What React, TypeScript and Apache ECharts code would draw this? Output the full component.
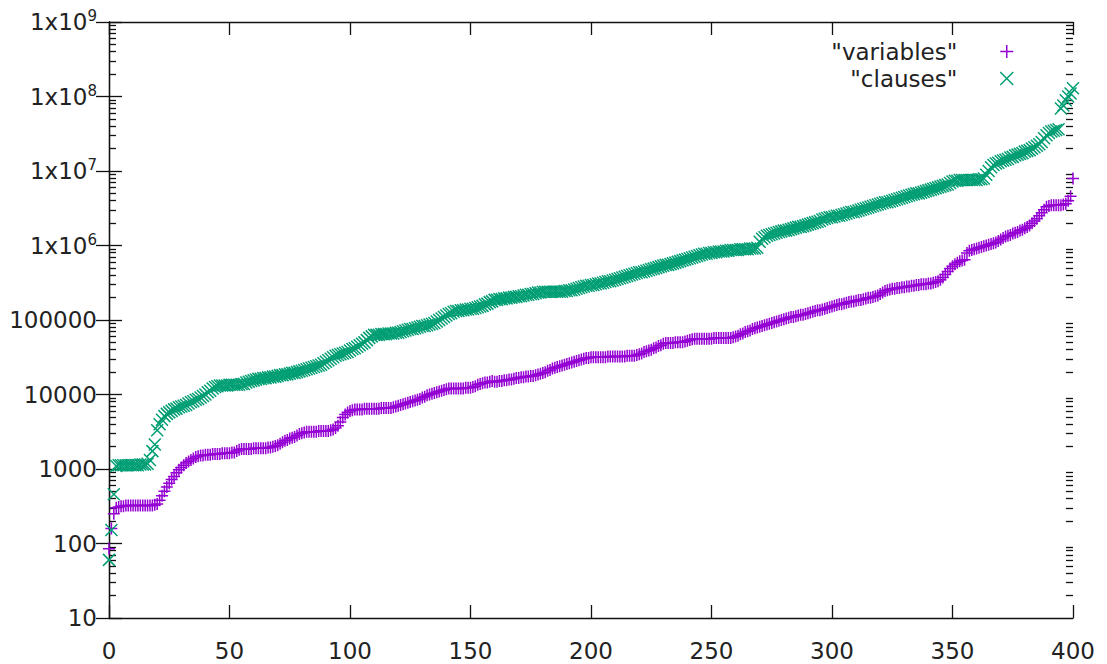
import React, { useEffect, useRef } from "react";
import * as echarts from "echarts";

// log10 of the "variables" values, index 0..400
const variablesLog10: number[] = [
  1.93, 2.2, 2.4, 2.48, 2.49, 2.5, 2.5, 2.51, 2.51, 2.51,
  2.51, 2.51, 2.51, 2.51, 2.51, 2.51, 2.51, 2.51, 2.51, 2.52,
  2.53, 2.58, 2.64, 2.7, 2.76, 2.81, 2.86, 2.9, 2.95, 2.99,
  3.02, 3.05, 3.08, 3.1, 3.12, 3.14, 3.16, 3.17, 3.18, 3.18,
  3.19, 3.19, 3.19, 3.2, 3.2, 3.2, 3.2, 3.21, 3.21, 3.21,
  3.21, 3.22, 3.22, 3.24, 3.26, 3.27, 3.27, 3.27, 3.27, 3.27,
  3.28, 3.28, 3.28, 3.28, 3.28, 3.28, 3.29, 3.29, 3.3, 3.31,
  3.32, 3.34, 3.36, 3.38, 3.39, 3.41, 3.42, 3.43, 3.45, 3.47,
  3.48, 3.49, 3.5, 3.5, 3.5, 3.5, 3.5, 3.51, 3.51, 3.51,
  3.51, 3.51, 3.52, 3.53, 3.55, 3.58, 3.63, 3.69, 3.73, 3.76,
  3.78, 3.79, 3.8, 3.8, 3.8, 3.8, 3.81, 3.81, 3.81, 3.81,
  3.81, 3.81, 3.81, 3.82, 3.82, 3.82, 3.82, 3.82, 3.83, 3.84,
  3.85, 3.86, 3.87, 3.88, 3.89, 3.9, 3.91, 3.92, 3.93, 3.94,
  3.96, 3.97, 3.99, 4.0, 4.01, 4.02, 4.03, 4.04, 4.05, 4.06,
  4.07, 4.08, 4.08, 4.08, 4.08, 4.08, 4.08, 4.08, 4.09, 4.09,
  4.09, 4.1, 4.11, 4.13, 4.14, 4.15, 4.16, 4.16, 4.17, 4.18,
  4.17, 4.17, 4.18, 4.18, 4.19, 4.19, 4.2, 4.2, 4.21, 4.22,
  4.22, 4.23, 4.23, 4.24, 4.24, 4.25, 4.25, 4.26, 4.27, 4.28,
  4.29, 4.3, 4.32, 4.33, 4.35, 4.36, 4.37, 4.38, 4.39, 4.4,
  4.41, 4.42, 4.43, 4.44, 4.45, 4.46, 4.47, 4.48, 4.49, 4.49,
  4.5, 4.5, 4.5, 4.5, 4.5, 4.5, 4.5, 4.51, 4.51, 4.51,
  4.51, 4.51, 4.51, 4.51, 4.51, 4.52, 4.52, 4.52, 4.52, 4.53,
  4.54, 4.55, 4.57, 4.58, 4.59, 4.6, 4.62, 4.63, 4.65, 4.66,
  4.68, 4.69, 4.69, 4.69, 4.69, 4.7, 4.7, 4.7, 4.7, 4.71,
  4.72, 4.73, 4.74, 4.75, 4.75, 4.75, 4.75, 4.75, 4.75, 4.75,
  4.75, 4.76, 4.76, 4.76, 4.76, 4.76, 4.76, 4.76, 4.76, 4.77,
  4.78, 4.79, 4.81, 4.82, 4.84, 4.85, 4.86, 4.88, 4.89, 4.9,
  4.91, 4.92, 4.93, 4.94, 4.95, 4.96, 4.97, 4.98, 4.99, 5.0,
  5.01, 5.02, 5.03, 5.04, 5.04, 5.05, 5.06, 5.07, 5.07, 5.08,
  5.09, 5.1, 5.11, 5.12, 5.13, 5.13, 5.14, 5.15, 5.16, 5.17,
  5.18, 5.19, 5.2, 5.21, 5.21, 5.22, 5.23, 5.24, 5.25, 5.25,
  5.26, 5.27, 5.27, 5.28, 5.29, 5.3, 5.3, 5.31, 5.32, 5.33,
  5.35, 5.37, 5.39, 5.4, 5.41, 5.42, 5.42, 5.43, 5.43, 5.44,
  5.44, 5.45, 5.45, 5.46, 5.46, 5.47, 5.47, 5.48, 5.48, 5.48,
  5.49, 5.49, 5.5, 5.51, 5.52, 5.54, 5.57, 5.61, 5.65, 5.69,
  5.72, 5.75, 5.77, 5.79, 5.8, 5.81, 5.9, 5.93, 5.94, 5.95,
  5.96, 5.97, 5.98, 5.99, 6.0, 6.01, 6.02, 6.03, 6.04, 6.06,
  6.08, 6.1, 6.12, 6.13, 6.14, 6.16, 6.17, 6.18, 6.2, 6.21,
  6.23, 6.25, 6.27, 6.3, 6.33, 6.36, 6.4, 6.44, 6.48, 6.52,
  6.53, 6.54, 6.54, 6.54, 6.54, 6.54, 6.55, 6.56, 6.6, 6.66,
  6.9,
];

// log10 of the "clauses" values, index 0..400
const clausesLog10: number[] = [
  1.78, 2.18, 2.66, 3.04, 3.05, 3.05, 3.05, 3.05, 3.05, 3.05,
  3.05, 3.05, 3.05, 3.06, 3.06, 3.06, 3.07, 3.12, 3.24, 3.33,
  3.52, 3.6, 3.66, 3.71, 3.74, 3.76, 3.78, 3.8, 3.81, 3.83,
  3.84, 3.85, 3.86, 3.88, 3.9, 3.91, 3.93, 3.94, 3.96, 3.98,
  4.0, 4.03, 4.05, 4.08, 4.1, 4.11, 4.12, 4.12, 4.12, 4.12,
  4.13, 4.13, 4.13, 4.13, 4.13, 4.14, 4.14, 4.16, 4.17, 4.18,
  4.19, 4.2, 4.21, 4.21, 4.22, 4.22, 4.23, 4.23, 4.24, 4.24,
  4.25, 4.26, 4.26, 4.27, 4.27, 4.28, 4.29, 4.29, 4.3, 4.31,
  4.32, 4.33, 4.34, 4.35, 4.36, 4.37, 4.38, 4.39, 4.4, 4.42,
  4.44, 4.46, 4.48, 4.5, 4.52, 4.53, 4.54, 4.55, 4.56, 4.57,
  4.59, 4.61, 4.62, 4.64, 4.66, 4.68, 4.7, 4.73, 4.76, 4.78,
  4.8, 4.8, 4.8, 4.81, 4.81, 4.81, 4.82, 4.82, 4.82, 4.83,
  4.83, 4.84, 4.85, 4.86, 4.87, 4.88, 4.88, 4.89, 4.9, 4.91,
  4.92, 4.92, 4.93, 4.94, 4.95, 4.96, 4.98, 5.0, 5.02, 5.04,
  5.06, 5.08, 5.09, 5.11, 5.12, 5.12, 5.13, 5.13, 5.14, 5.14,
  5.15, 5.15, 5.16, 5.17, 5.18, 5.19, 5.21, 5.22, 5.24, 5.25,
  5.27, 5.27, 5.28, 5.28, 5.29, 5.29, 5.3, 5.3, 5.31, 5.31,
  5.32, 5.32, 5.33, 5.34, 5.34, 5.35, 5.35, 5.36, 5.37, 5.37,
  5.38, 5.38, 5.38, 5.38, 5.38, 5.38, 5.38, 5.38, 5.38, 5.39,
  5.39, 5.4, 5.4, 5.41, 5.42, 5.43, 5.44, 5.45, 5.46, 5.46,
  5.47, 5.47, 5.48, 5.49, 5.49, 5.5, 5.51, 5.52, 5.52, 5.53,
  5.54, 5.55, 5.56, 5.57, 5.58, 5.59, 5.6, 5.61, 5.62, 5.63,
  5.64, 5.64, 5.65, 5.66, 5.67, 5.68, 5.69, 5.7, 5.71, 5.72,
  5.73, 5.74, 5.74, 5.75, 5.76, 5.77, 5.78, 5.79, 5.8, 5.81,
  5.82, 5.83, 5.84, 5.85, 5.86, 5.87, 5.88, 5.89, 5.89, 5.9,
  5.9, 5.91, 5.91, 5.92, 5.92, 5.92, 5.93, 5.93, 5.94, 5.94,
  5.94, 5.94, 5.95, 5.95, 5.95, 5.95, 5.96, 5.96, 5.96, 5.97,
  6.05, 6.09, 6.11, 6.13, 6.14, 6.15, 6.16, 6.17, 6.18, 6.19,
  6.2, 6.2, 6.21, 6.22, 6.23, 6.24, 6.25, 6.25, 6.26, 6.27,
  6.28, 6.29, 6.3, 6.31, 6.32, 6.33, 6.35, 6.36, 6.37, 6.38,
  6.38, 6.39, 6.4, 6.4, 6.41, 6.42, 6.43, 6.44, 6.45, 6.45,
  6.46, 6.47, 6.48, 6.49, 6.5, 6.51, 6.52, 6.53, 6.54, 6.55,
  6.56, 6.57, 6.58, 6.58, 6.59, 6.6, 6.61, 6.62, 6.63, 6.64,
  6.65, 6.66, 6.67, 6.68, 6.69, 6.7, 6.7, 6.71, 6.72, 6.73,
  6.74, 6.75, 6.76, 6.77, 6.78, 6.79, 6.8, 6.81, 6.82, 6.84,
  6.86, 6.87, 6.87, 6.88, 6.88, 6.88, 6.88, 6.88, 6.88, 6.88,
  6.88, 6.89, 6.89, 6.9, 6.95, 7.0, 7.05, 7.08, 7.1, 7.11,
  7.13, 7.14, 7.15, 7.16, 7.18, 7.19, 7.21, 7.22, 7.23, 7.24,
  7.26, 7.27, 7.28, 7.3, 7.32, 7.34, 7.36, 7.39, 7.44, 7.48,
  7.51, 7.53, 7.54, 7.55, 7.56, 7.84, 7.88, 7.95, 8.0, 8.04,
  8.11,
];

const seriesNames = ['"variables"', '"clauses"'];
const seriesColors = ["#9400d3", "#009e73"];
const yMajorTicks = [10, 100, 1000, 10000, 100000, 1e6, 1e7, 1e8, 1e9];
const yMinorMultipliers = [2, 3, 4, 5, 6, 7, 8, 9];
const xTickInterval = 50;

const PLUS = "path://M6,0L6,12M0,6L12,6";
const CROSS = "path://M0,0L12,12M12,0L0,12";

export default function App() {
  const ref = useRef<HTMLDivElement>(null);

  useEffect(() => {
    if (!ref.current) return;
    const chart = echarts.init(ref.current, undefined, { renderer: "svg" });

    const variables = variablesLog10.map((v, i) => [i, Math.pow(10, v)]);
    const clauses = clausesLog10.map((v, i) => [i, Math.pow(10, v)]);

    const minorTicks: number[] = [];
    for (let k = 0; k < yMajorTicks.length - 1; k++) {
      for (const m of yMinorMultipliers) minorTicks.push(yMajorTicks[k] * m);
    }

    const font = "DejaVu Sans";
    const fs = 23;
    const lineStyle = { color: "#111", width: 1.3 };
    const gridBox = { left: 109, right: 34, top: 22, bottom: 46, containLabel: false };

    const yLabelFormatter = (value: number) => {
      const e = Math.round(Math.log10(value));
      if (e >= 6) return "1x10{s|" + e + "}";
      return String(Math.round(value));
    };

    const baseY = {
      type: "log" as const,
      logBase: 10,
      min: 10,
      max: 1e9,
      splitLine: { show: false },
      minorTick: { show: false },
    };

    const majorY = (position: "left" | "right", labels: boolean) => ({
      ...baseY,
      gridIndex: 0,
      position,
      axisLine: { show: true, lineStyle },
      axisTick: {
        show: true,
        inside: true,
        length: 13,
        lineStyle,
        customValues: yMajorTicks,
      },
      axisLabel: labels
        ? {
            show: true,
            margin: 12,
            fontFamily: font,
            fontSize: fs,
            color: "#222",
            customValues: yMajorTicks,
            formatter: yLabelFormatter,
            rich: {
              s: {
                fontFamily: font,
                fontSize: 15,
                color: "#222",
                padding: [0, 0, 12, 0],
              },
            },
          }
        : { show: false },
    });

    const minorY = (position: "left" | "right") => ({
      ...baseY,
      gridIndex: 1,
      position,
      axisLine: { show: false },
      axisTick: {
        show: true,
        inside: true,
        length: 7,
        lineStyle,
        customValues: minorTicks,
      },
      axisLabel: { show: false },
    });

    const option: any = {
      animation: false,
      backgroundColor: "#ffffff",
      grid: [gridBox, { ...gridBox }],
      legend: {
        orient: "vertical",
        right: 88,
        top: 35,
        align: "right",
        itemWidth: 13,
        itemHeight: 13,
        itemGap: 4,
        selectedMode: false,
        textStyle: {
          fontFamily: font,
          fontSize: fs,
          color: "#222",
          padding: [0, 38, 0, 0],
        },
        data: seriesNames.map((n, i) => ({
          name: n,
          icon: i === 0 ? PLUS : CROSS,
          itemStyle: {
            color: "rgba(0,0,0,0)",
            borderColor: seriesColors[i],
            borderWidth: 1.5,
          },
        })),
      },
      xAxis: [
        {
          type: "value",
          gridIndex: 0,
          position: "bottom",
          min: 0,
          max: 400,
          interval: xTickInterval,
          splitLine: { show: false },
          axisLine: { show: true, lineStyle },
          axisTick: { show: true, inside: true, length: 13, lineStyle },
          axisLabel: {
            show: true,
            margin: 21,
            fontFamily: font,
            fontSize: fs,
            color: "#222",
          },
        },
        {
          type: "value",
          gridIndex: 0,
          position: "top",
          min: 0,
          max: 400,
          interval: xTickInterval,
          splitLine: { show: false },
          axisLine: { show: true, lineStyle },
          axisTick: { show: true, inside: true, length: 13, lineStyle },
          axisLabel: { show: false },
        },
        {
          type: "value",
          gridIndex: 1,
          min: 0,
          max: 400,
          show: false,
        },
      ],
      yAxis: [
        majorY("left", true),
        majorY("right", false),
        minorY("left"),
        minorY("right"),
      ],
      series: [
        {
          name: seriesNames[0],
          type: "scatter",
          xAxisIndex: 0,
          yAxisIndex: 0,
          symbol: PLUS,
          symbolSize: 12,
          itemStyle: {
            color: "rgba(0,0,0,0)",
            borderColor: seriesColors[0],
            borderWidth: 1.5,
            opacity: 1,
          },
          emphasis: { disabled: true },
          data: variables,
        },
        {
          name: seriesNames[1],
          type: "scatter",
          xAxisIndex: 0,
          yAxisIndex: 0,
          symbol: CROSS,
          symbolSize: 12,
          itemStyle: {
            color: "rgba(0,0,0,0)",
            borderColor: seriesColors[1],
            borderWidth: 1.5,
            opacity: 1,
          },
          emphasis: { disabled: true },
          data: clauses,
        },
      ],
    };

    chart.setOption(option);
    return () => chart.dispose();
  }, []);

  return (
    <div
      ref={ref}
      style={{ position: "fixed", left: 0, top: 0, width: 1107, height: 664 }}
    />
  );
}
